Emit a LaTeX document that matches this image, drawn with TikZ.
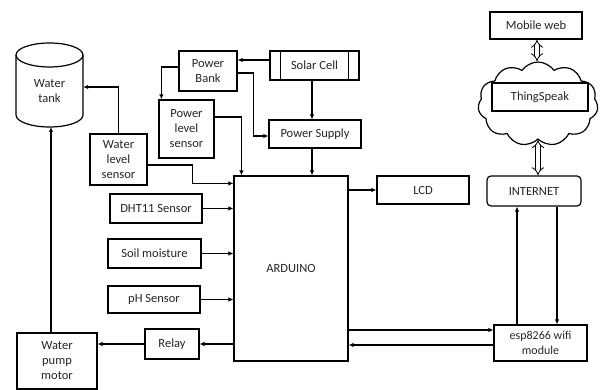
\documentclass[tikz,border=0pt]{standalone}
\usepackage{fontspec}
\setmainfont{Carlito}
\usetikzlibrary{arrows.meta,shapes.symbols,calc}
\begin{document}
\begin{tikzpicture}[x=1pt,y=-1pt,
  font=\fontsize{12.5}{15}\selectfont,
  ln/.style={line width=1.2pt, draw=black},
  box/.style={ln, rectangle, fill=white, align=center, inner sep=1pt, text=black!85},
  arr/.style={ln, -{Latex[length=5pt,width=4.5pt]}},
  dbl/.style={double, double distance=3.5pt, line width=0.8pt, {Implies}-{Implies}}]
\useasboundingbox (0,0) rectangle (600,390);

% water tank (cylinder)
\draw[ln] (16,55) -- (16,115) arc[start angle=180,end angle=360,x radius=33.5pt,y radius=12pt] -- (83,55);
\draw[ln] (49.5,55) ellipse[x radius=33.5pt, y radius=12pt];
\node[align=center, text=black!85, minimum width=67pt] (tank) at (49.5,91) {Water\\tank};
\coordinate (tankb) at (51,127);

% nodes
\node[box, minimum width=57pt, minimum height=51pt] (wls) at (118.5,159.5) {Water\\level\\sensor};
\node[box, minimum width=58pt, minimum height=40pt] (pbank) at (208,71) {Power\\Bank};
\node[box, minimum width=89pt, minimum height=29pt] (solar) at (314.5,65.5) {Solar Cell};
\node[box, minimum width=55pt, minimum height=58pt] (pls) at (186.5,129) {Power\\level\\sensor};
\node[box, minimum width=92pt, minimum height=28pt] (psup) at (315,134) {Power Supply};
\node[box, minimum width=114pt, minimum height=185pt] (ard) at (291,268.5) {ARDUINO};
\node[box, minimum width=92pt, minimum height=28pt] (lcd) at (423,190) {LCD};
\node[box, minimum width=94pt, minimum height=30pt, rounded corners=4pt] (inet) at (534,191) {INTERNET};
\node[box, minimum width=93pt, minimum height=36pt, font=\fontsize{12}{15}\selectfont] (esp) at (540.5,343) {esp8266 wifi\\module};
\node[box, minimum width=92pt, minimum height=29pt] (dht) at (156,208.5) {DHT11 Sensor};
\node[box, minimum width=93pt, minimum height=29pt] (soil) at (154.5,253.5) {Soil moisture};
\node[box, minimum width=92pt, minimum height=27pt] (ph) at (154,299.5) {pH Sensor};
\node[box, minimum width=54pt, minimum height=30pt] (relay) at (172,344) {Relay};
\node[box, minimum width=80pt, minimum height=56pt] (pump) at (57,361) {Water\\pump\\motor};
\node[box, minimum width=92pt, minimum height=27pt] (mweb) at (536,25.5) {Mobile web};
\node[cloud, ln, cloud puffs=11, cloud puff arc=110, cloud ignores aspect, minimum width=120pt, minimum height=84pt, inner sep=0pt] (cloud) at (538,104) {};
\node[box, minimum width=96pt, minimum height=28pt] (ts) at (540,97) {ThingSpeak};

% solar cell inner lines
\draw[ln] ([xshift=11pt]solar.north west) -- ([xshift=11pt]solar.south west);
\draw[ln] ([xshift=-11pt]solar.north east) -- ([xshift=-11pt]solar.south east);

% connectors
\draw[arr] ([yshift=5.5pt]solar.west) -- ([yshift=5.5pt]solar.west -| pbank.east);
\draw[arr] ([yshift=4pt]pbank.west) -| ([xshift=3pt]pls.north west);
\draw[arr] ([yshift=-2pt]pbank.east) -- ++(16,0) |- ([yshift=-2pt]psup.west);
\draw[arr] ([xshift=-2.5pt]solar.south) -- ([xshift=-2.5pt]solar.south |- psup.north);
\draw[arr] ([xshift=-3pt]psup.south) -- ([xshift=-3pt]psup.south |- ard.north);
\draw[arr] ([yshift=12pt]pls.east) -| ([xshift=8pt]ard.north west);
\draw[arr] (wls.north) |- ([yshift=4pt]tank.east);
\draw[arr] ([xshift=-6pt]pump.north) -- ([xshift=-6pt]pump.north |- tankb);
\draw[arr] ([yshift=-5.5pt]wls.east) -- ++(45,0) |- ([yshift=-8pt]ard.north west);
\draw[arr] (dht.east) -- (dht.east -| ard.west);
\draw[arr] (soil.east) -- (soil.east -| ard.west);
\draw[arr] (ph.east) -- (ph.east -| ard.west);
\draw[arr] (relay.east -| ard.west) -- (relay.east);
\draw[arr] (relay.west) -- (relay.west -| pump.east);
\draw[arr] (lcd.west -| ard.east) -- (lcd.west);

\coordinate (e1) at ([yshift=13pt]esp.west);
\coordinate (e2) at ([yshift=-2pt]esp.west);
\draw[arr] (e1 -| ard.east) -- (e1);
\draw[arr] (e2) -- (e2 -| ard.east);
\coordinate (u1) at ([xshift=-23.5pt]esp.north);
\coordinate (u2) at ([xshift=23pt]inet.south);
\draw[arr] (u1) -- (u1 |- inet.south);
\draw[arr] (u2) -- (u2 |- esp.north);

\draw[dbl] ([xshift=1pt]mweb.south) -- ([xshift=1pt]mweb.south |- cloud.north);
\draw[dbl] (cloud.south) -- (cloud.south |- inet.north);
\end{tikzpicture}
\end{document}
